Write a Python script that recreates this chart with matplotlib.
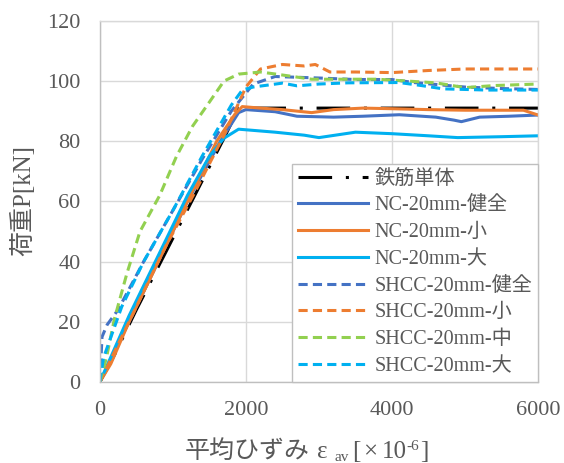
"""Load vs average strain curves (NC / SHCC, 20 mm)."""

import matplotlib

matplotlib.use("Agg")
import matplotlib.pyplot as plt

plt.rcParams["font.family"] = ["Liberation Serif", "Noto Sans CJK JP"]

GRAY = "#595959"

# strain [x10^-6], load [kN]
bare_x = [0, 200, 500, 900, 1300, 1700, 1900, 2200, 3000, 4000, 5000, 6000]
bare_y = [0, 9, 24, 43, 62, 81, 91, 91, 91, 91, 91, 91]

nc_sound_x = [0, 400, 800, 1200, 1650, 1900, 2000, 2400, 2700, 3200, 3600, 4100, 4600, 4850, 4950, 5200, 5600, 6000]
nc_sound_y = [0, 20, 40, 60, 80, 89.5, 90.5, 89.8, 88.3, 88.0, 88.3, 88.8, 88.0, 87.0, 86.5, 88.0, 88.3, 88.7]

nc_small_x = [0, 150, 400, 800, 1200, 1600, 1850, 1950, 2200, 2500, 2900, 3200, 3600, 4000, 4500, 5000, 5800, 6000]
nc_small_y = [0, 6, 20, 40, 60, 80, 89, 91.5, 91, 90.5, 89.5, 90.5, 91, 90.8, 90.5, 90.3, 90.3, 88.7]

nc_large_x = [0, 400, 800, 1200, 1500, 1700, 1900, 2400, 2800, 3000, 3500, 4000, 4500, 4900, 5500, 6000]
nc_large_y = [0, 22, 42, 62, 75, 81, 84, 83, 82, 81.2, 83, 82.5, 81.8, 81.2, 81.5, 81.8]

shcc_sound_x = [0, 30, 100, 250, 600, 1000, 1400, 1800, 2100, 2400, 3000, 3500, 4000, 4300, 5000, 5500, 6000]
shcc_sound_y = [0, 15, 19, 24, 40, 57, 74, 90, 99, 101.5, 101, 100.5, 100.5, 99.5, 98, 97.5, 97.2]

shcc_small_x = [0, 200, 500, 900, 1300, 1700, 2000, 2200, 2500, 2800, 2950, 3150, 3500, 4000, 4500, 5000, 6000]
shcc_small_y = [0, 10, 25, 45, 63, 82, 98, 104, 105.5, 105, 105.5, 103, 103, 102.8, 103.5, 104, 104]

shcc_mid_x = [0, 90, 200, 370, 550, 820, 1050, 1270, 1500, 1700, 1900, 2200, 2500, 2900, 3800, 4600, 5000, 5400, 6000]
shcc_mid_y = [0, 8, 21, 36, 50, 62, 75, 85, 93, 100, 102.3, 103, 102, 100.6, 100.6, 99.4, 97.8, 98.5, 99]

shcc_large_x = [0, 50, 300, 600, 1000, 1400, 1800, 1950, 2100, 2500, 2700, 3000, 3400, 4100, 4400, 4700, 5300, 6000]
shcc_large_y = [0, 8, 25, 40, 57, 75, 92, 97, 98, 99.3, 98.4, 99, 99.4, 99.5, 98.5, 97.4, 97, 97]

labels = [
    "鉄筋単体",
    "NC-20mm-健全",
    "NC-20mm-小",
    "NC-20mm-大",
    "SHCC-20mm-健全",
    "SHCC-20mm-小",
    "SHCC-20mm-中",
    "SHCC-20mm-大",
]
colors = ["black", "#4472C4", "#ED7D31", "#00B0F0", "#4472C4", "#ED7D31", "#92D050", "#00B0F0"]
dash_dot = (0, (11, 4.5, 1, 4.5))
dashed = (0, (3, 1.7))
styles = [dash_dot, "-", "-", "-", dashed, dashed, dashed, dashed]

series = [
    (bare_x, bare_y),
    (nc_sound_x, nc_sound_y),
    (nc_small_x, nc_small_y),
    (nc_large_x, nc_large_y),
    (shcc_sound_x, shcc_sound_y),
    (shcc_small_x, shcc_small_y),
    (shcc_mid_x, shcc_mid_y),
    (shcc_large_x, shcc_large_y),
]

fig = plt.figure(figsize=(5.64, 4.63), dpi=100)
ax = fig.add_axes([0.177, 0.175, 0.777, 0.780])

for (xs, ys), label, color, ls in zip(series, labels, colors, styles):
    ax.plot(xs, ys, color=color, linestyle=ls, linewidth=2.2, label=label)

ax.set_xlim(0, 6000)
ax.set_ylim(0, 120)
ax.set_xticks([0, 2000, 4000, 6000])
ax.set_yticks(range(0, 121, 20))
ax.grid(True, color="#d9d9d9", linewidth=1.0)
ax.set_axisbelow(True)
for side in ["left", "bottom", "right", "top"]:
    ax.spines[side].set_color("#d9d9d9")
    ax.spines[side].set_linewidth(1.0)
ax.spines["left"].set_color("#bfbfbf")
ax.spines["bottom"].set_color("#bfbfbf")
ax.tick_params(length=0, labelsize=16, labelcolor=GRAY, pad=14)

# y label
fig.text(23 / 564, 0.566, "荷重P[kN]", rotation=90, ha="center", va="center",
         fontsize=18, color=GRAY)

# x label built from pieces: 平均ひずみ ε_av [×10^-6]
base = 5 / 463
# (text, fontsize, gap before in px, vertical shift in px)
pieces = [
    ("ε", 18, 7, 0),
    ("av", 11, 7, -3),
    ("[", 18, 3, 0),
    ("×", 18, 3, 0),
    ("10", 18, 4, 0),
    ("-6", 11, 0, 8),
    ("]", 18, 1, 0),
]
prev = fig.text(185 / 564, base, "平均ひずみ", fontsize=18, color=GRAY, va="baseline")
for text, size, gap, dy in pieces:
    prev = ax.annotate(text, xy=(1, base), xycoords=(prev, "figure fraction"),
                       xytext=(gap, dy), textcoords="offset pixels", fontsize=size,
                       color=GRAY, va="baseline", annotation_clip=False)

leg = ax.legend(
    loc="lower right",
    bbox_to_anchor=(1.0, 0.0),
    borderaxespad=0,
    fontsize=14.5,
    handlelength=3.5,
    labelspacing=0.38,
    handletextpad=0.3,
    borderpad=0.3,
    fancybox=False,
    framealpha=1,
    edgecolor="#bfbfbf",
)
for text in leg.get_texts():
    text.set_color(GRAY)

fig.savefig("out.png", dpi=100, facecolor="white")
